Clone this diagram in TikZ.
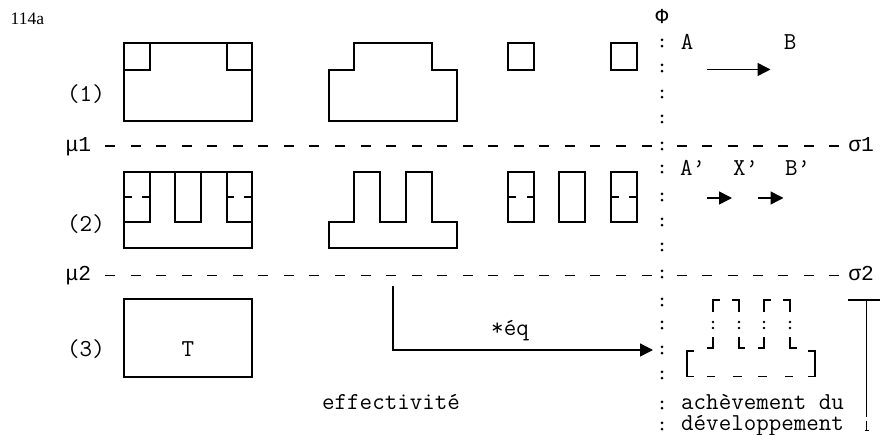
\documentclass[tikz,border=0pt]{standalone}
\usepackage{fontspec}
\setmainfont{Latin Modern Mono}
\newfontfamily\greekmono{Liberation Mono}
\newfontfamily\serifnum{Liberation Serif}
\usetikzlibrary{arrows.meta}
\begin{document}
\begin{tikzpicture}[x=1pt,y=-1pt,
  txt/.style={inner sep=0pt, anchor=base, font=\fontsize{24.3}{27}\selectfont},
  gtxt/.style={inner sep=0pt, anchor=base, font=\greekmono\fontsize{21.25}{24}\selectfont},
  txtl/.style={txt, anchor=base west},
  shp/.style={line width=1.4pt, line join=miter, line cap=rect},
  sep/.style={line width=1.6pt},
  arr/.style={line width=1.5pt, -{Triangle[length=13pt,width=13pt]}},
  dot/.style={fill=black}
]
\useasboundingbox (0,0) rectangle (880,435);

% labels
\node[inner sep=0pt, anchor=base west, font=\serifnum\fontsize{17.5}{20}\selectfont] (fig) at (10.5,25) {114a};
\node[gtxt] (phi) at (662,24) {Φ};
\node[txt] (A) at (687,50) {A};
\node[txt] (B) at (790,50) {B};
\node[txt] (l1) at (86,101.5) {(1)};
\node[gtxt] (mu1) at (78.5,151.5) {μ1};
\node[gtxt] (s1) at (861,152) {σ1};
\node[txtl] (Ap) at (680,176) {A’};
\node[txtl] (Xp) at (733,176) {X’};
\node[txtl] (Bp) at (785,176) {B’};
\node[txt] (l2) at (86,231.5) {(2)};
\node[gtxt] (mu2) at (78.5,281) {μ2};
\node[gtxt] (s2) at (861,281) {σ2};
\node[txt] (l3) at (86,356.5) {(3)};
\node[txt] (T) at (188,356.5) {T};
\node[txt] (eq) at (510,335) {*éq};
\node[txtl] (eff) at (322,409) {effectivité};
\node[txtl] (ach) at (681,409) {achèvement du};
\node[txtl] (dev) at (681,430) {développement};

% colon column
\foreach \y in {43,68,94,119,146,169,197,222,247,274,302,325,350,375,405,426} {
  \fill (662,\y-3.2) circle (1.5);
  \fill (662,\y+3.2) circle (1.5);
}

% dashed separators
\draw[sep, dash pattern=on 10pt off 15.55pt] (105,146) -- (652,146);
\draw[sep, dash pattern=on 10pt off 15.3pt] (677,146) -- (839,146);
\draw[sep, dash pattern=on 10pt off 15.55pt] (105,275.5) -- (652,275.5);
\draw[sep, dash pattern=on 10pt off 15.3pt] (677,275.5) -- (839,275.5);

% row 1
\draw[shp] (124,43) rectangle (252,121);
\draw[shp] (150,43) -- (150,70) -- (124,70);
\draw[shp] (227,43) -- (227,70) -- (252,70);
\draw[shp] (329,121) -- (329,70) -- (354,70) -- (354,43) -- (432,43) -- (432,70) -- (457,70) -- (457,121) -- cycle;
\draw[shp] (508,43) rectangle (534,70);
\draw[shp] (611,43) rectangle (637,70);

% row 2
\draw[shp] (124,172) rectangle (252,248);
\draw[shp] (150,172) -- (150,222) -- (124,222);
\draw[shp] (175,172) -- (175,222) -- (201,222) -- (201,172);
\draw[shp] (227,172) -- (227,222) -- (252,222);
\draw[shp] (124,197) -- (131,197) (143,197) -- (150,197) (227,197) -- (233,197) (245,197) -- (252,197);
\draw[shp] (329,248) -- (329,222) -- (354,222) -- (354,172) -- (380,172) -- (380,222) -- (406,222) -- (406,172) -- (432,172) -- (432,222) -- (457,222) -- (457,248) -- cycle;
\draw[shp] (508,172) rectangle (534,222);
\draw[shp] (559,172) rectangle (585,222);
\draw[shp] (611,172) rectangle (637,222);
\draw[shp] (508,197) -- (515,197) (528,197) -- (534,197) (611,197) -- (618,197) (630,197) -- (637,197);

% row 3
\draw[shp] (124,299) rectangle (252,377);

% arrows
\coordinate (a1s) at (707,69.5);
\coordinate (a1e) at (770.5,69.5);
\draw[arr] (a1s) -- (a1e);
\coordinate (a2s) at (707,198);
\coordinate (a2e) at (732,198);
\draw[arr] (a2s) -- (a2e);
\coordinate (a3s) at (758,198);
\coordinate (a3e) at (783.5,198);
\draw[arr] (a3s) -- (a3e);
\coordinate (eqs) at (393,286);
\coordinate (eqe) at (653,350);
\draw[arr] (eqs) |- (eqe);

% bracket figure
\begin{scope}[line width=1.3pt]
\draw (713,312) -- (713,300) -- (720,300);
\draw (732,300) -- (739,300) -- (739,312);
\draw (764,312) -- (764,300) -- (771,300);
\draw (783,300) -- (790,300) -- (790,312);
\draw (713,337) -- (713,348) -- (707,348);
\draw (739,337) -- (739,348) -- (745,348);
\draw (764,337) -- (764,348) -- (758,348);
\draw (790,337) -- (790,348) -- (797,348);
\draw (694,351) -- (687,351) -- (687,376.5) -- (694,376.5);
\draw (808,351) -- (815,351) -- (815,376.5) -- (808,376.5);
\draw (707,376.5) -- (715,376.5) (733,376.5) -- (742,376.5) (758,376.5) -- (767,376.5) (785,376.5) -- (793,376.5);
\end{scope}
\foreach \x in {713,739,764,790} {
  \fill (\x,322) circle (1.4);
  \fill (\x,328) circle (1.4);
}

% right bracket bar
\draw[line width=1.3pt] (848,300) -- (880,300);
\draw[line width=1.3pt] (866.5,300) -- (866.5,417);
\draw[line width=0.8pt] (866.5,421) -- (866.5,430);
\draw[line width=0.8pt] (864.5,430) -- (868.5,430);
\end{tikzpicture}
\end{document}
